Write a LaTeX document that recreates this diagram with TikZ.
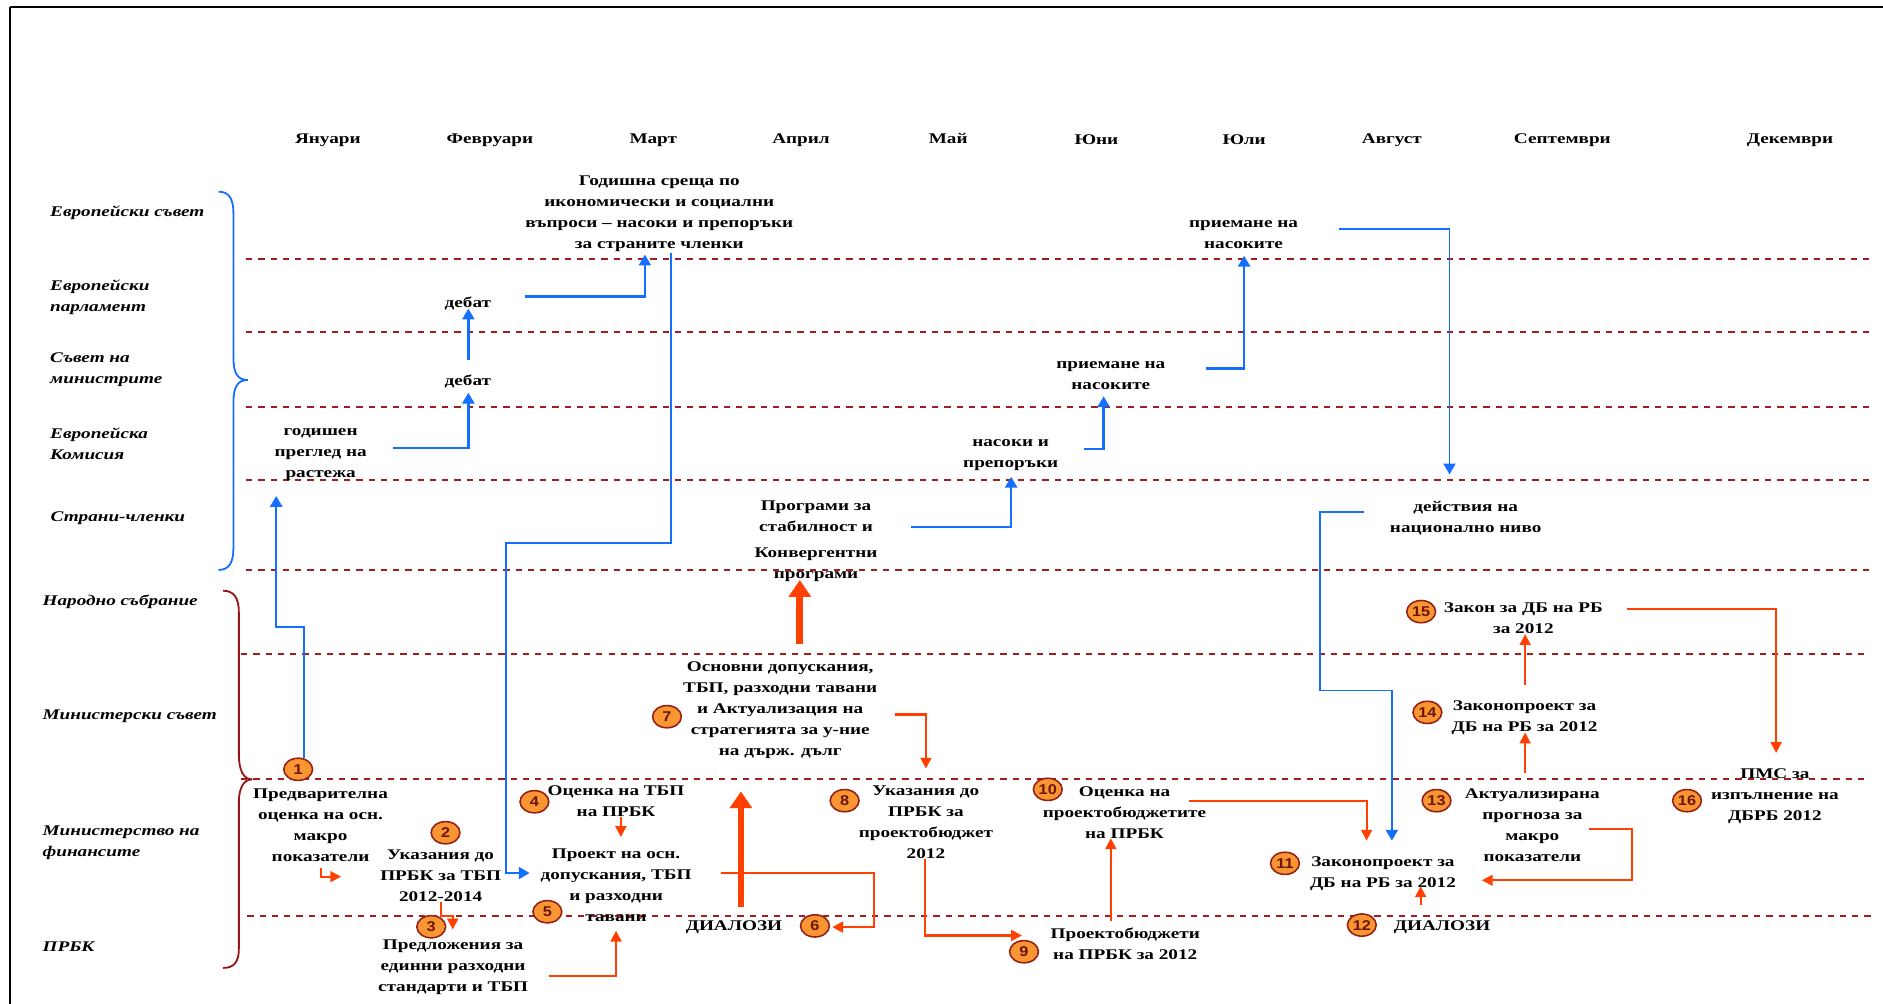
\documentclass[tikz,border=0pt]{standalone}
\usepackage{fontspec}
\setmainfont{Liberation Serif}[FakeStretch=1.3]
\newfontfamily\numfont{Liberation Sans}[FakeStretch=1.15]
\usetikzlibrary{arrows.meta,shapes.geometric}
\definecolor{eublue}{RGB}{20,110,255}
\definecolor{bgred}{RGB}{255,64,0}
\definecolor{laneline}{RGB}{160,30,30}
\definecolor{bracered}{RGB}{150,20,20}
\definecolor{numfill}{RGB}{247,150,50}
\definecolor{numdraw}{RGB}{150,30,20}
\definecolor{numtext}{RGB}{110,20,10}
\tikzset{
  txt/.style={font=\bfseries\fontsize{12.3}{17.5}\selectfont, align=center, inner sep=0pt, text=black, yshift=-1.5pt},
  lane/.style={font=\bfseries\itshape\fontsize{12.3}{17.5}\selectfont, align=left, anchor=west, inner sep=0pt, yshift=-1pt},
  num/.style={ellipse, draw=numdraw, line width=1.3pt, fill=numfill, minimum width=24pt, minimum height=18.5pt, inner sep=0pt, font=\numfont\bfseries\fontsize{11.8}{12}\selectfont, text=numtext},
  lanesep/.style={draw=laneline, line width=1.5pt, dash pattern=on 5.2pt off 5pt},
  bluearr/.style={draw=eublue, line width=2pt, -{Triangle[length=9pt,width=10pt]}},
  bluethin/.style={draw=eublue, line width=1.6pt, -{Triangle[length=9pt,width=10pt]}},
  redarr/.style={draw=bgred, line width=1.8pt, -{Triangle[length=9pt,width=9pt]}},
  bigarr/.style={draw=bgred, line width=5.6pt, -{Triangle[length=14pt,width=18pt]}},
  eubrace/.style={draw=eublue, line width=1.5pt},
  bgbrace/.style={draw=bracered, line width=1.5pt},
  frame/.style={draw=black, line width=1.8pt}
}
\begin{document}
\begin{tikzpicture}[x=1pt,y=-1pt]
\useasboundingbox (0,0) rectangle (1568,836);
% frame
\draw[frame] (8.3,5.6) -- (1568,5.6);
\draw[frame] (8.3,5.6) -- (8.3,836);

% lane separators
\foreach \yy in {215.4,276.7,338.6,399.7,474.6}{\draw[lanesep] (205,\yy) -- (1558,\yy);}
\draw[lanesep] (200.7,544.6) -- (1552,544.6);
\draw[lanesep] (200.7,649) -- (1554,649);
\draw[lanesep] (206,762.8) -- (1559,762.8);

% braces
\draw[eubrace] (182,159.6) .. controls (191,159.6) and (194.4,166) .. (194.4,178) -- (194.4,298)
  .. controls (194.4,311) and (198,316.4) .. (206.3,316.4)
  .. controls (198,316.4) and (194.4,322) .. (194.4,335) -- (194.4,456)
  .. controls (194.4,468) and (191,474.6) .. (182,474.6);
\draw[bgbrace] (185.7,491.9) .. controls (195,491.9) and (198.9,498) .. (198.9,510) -- (198.9,628)
  .. controls (198.9,642) and (203,649) .. (210,649);
\draw[bgbrace] (210,649) .. controls (203,649) and (198.9,656) .. (198.9,668) -- (198.9,790)
  .. controls (198.9,801) and (195,806) .. (185.7,806);

% months
\node[txt] (mJan) at (273,115.2) {Януари};
\node[txt] (mFeb) at (408,115.2) {Февруари};
\node[txt] (mMar) at (544,115.2) {Март};
\node[txt] (mApr) at (667,115.2) {Април};
\node[txt] (mMay) at (789.6,113.7) {Май};
\node[txt] (mJun) at (913,115.2) {Юни};
\node[txt] (mJul) at (1036,115.2) {Юли};
\node[txt] (mAug) at (1159,115.2) {Август};
\node[txt] (mSep) at (1301,115.2) {Септември};
\node[txt] (mDec) at (1490.6,115.2) {Декември};

% lane labels
\node[lane] (lEC) at (41.6,176.3) {Европейски съвет};
\node[lane] (lEP) at (41.6,246.6) {Европейски\\парламент};
\node[lane] (lCM) at (41.6,307.1) {Съвет на\\министрите};
\node[lane] (lCom) at (41.6,368.8) {Европейска\\Комисия};
\node[lane] (lMS) at (42,430.2) {Страни-членки};
\node[lane] (lNS) at (35.3,500.2) {Народно събрание};
\node[lane] (lMC) at (35.3,595.4) {Министерски съвет};
\node[lane] (lMF) at (35.3,700.9) {Министерство на\\финансите};
\node[lane] (lPR) at (35.3,787.7) {ПРБК};

% EU nodes
\node[txt] (ann) at (549,176.5) {Годишна среща по\\икономически и социални\\въпроси – насоки и препоръки\\за страните членки};
\node[txt] (deb1) at (389.6,251.2) {дебат};
\node[txt] (deb2) at (389.6,315.9) {дебат};
\node[txt] (agr) at (267,377.3) {годишен\\преглед на\\растежа};
\node[txt] (acc1) at (1035.5,194) {приемане на\\насоките};
\node[txt] (acc2) at (925,311.2) {приемане на\\насоките};
\node[txt] (gdl) at (841.6,377.1) {насоки и\\препоръки};
\node[txt] (scp) at (679.5,449.2) {Програми за\\стабилност и\\[3.4pt]Конвергентни\\програми};
\node[txt] (nat) at (1220.5,430) {действия на\\национално ниво};

% national nodes
\node[num] (c15) at (1183.4,509.3) {15};
\node[txt] (law) at (1268.5,513) {Закон за ДБ на РБ\\за 2012};
\node[txt] (bas) at (649.7,589.8) {Основни допускания,\\ТБП, разходни тавани\\и Актуализация на\\стратегията за у-ние\\на държ. дълг};
\node[num] (c7) at (555.4,596.8) {7};
\node[num] (c14) at (1188.6,593.2) {14};
\node[txt] (bill2) at (1269.5,596) {Законопроект за\\ДБ на РБ за 2012};

\node[num] (c1) at (248.3,640.6) {1};
\node[txt] (pre) at (266.9,686) {Предварителна\\оценка на осн.\\макро\\показатели};
\node[num] (c2) at (371,693.4) {2};
\node[txt] (ins) at (366.9,727.6) {Указания до\\ПРБК за ТБП\\2012-2014};
\node[num] (c4) at (445,667.6) {4};
\node[txt] (ev4) at (513,665.9) {Оценка на ТБП\\на ПРБК};
\node[txt] (prj) at (513,735.9) {Проект на осн.\\допускания, ТБП\\и разходни\\тавани};
\node[num] (c5) at (455.8,759.2) {5};
\node[num] (c3) at (359.1,771.7) {3};
\node[txt] (prop) at (377.3,804) {Предложения за\\единни разходни\\стандарти и ТБП};
\node[txt] (dia1) at (611.2,770.3) {ДИАЛОЗИ};
\node[num] (c6) at (678.6,771) {6};
\node[num] (c8) at (703.3,666.7) {8};
\node[txt] (ins8) at (771,683.5) {Указания до\\ПРБК за\\проектобюджет\\2012};
\node[num] (c10) at (872.5,657.3) {10};
\node[txt] (ev10) at (936.4,675) {Оценка на\\проектобюджетите\\на ПРБК};
\node[txt] (drafts) at (937,784) {Проектобюджети\\на ПРБК за 2012};
\node[num] (c9) at (852.7,792.5) {9};
\node[num] (c11) at (1070,718.9) {11};
\node[txt] (bill1) at (1151.6,726.1) {Законопроект за\\ДБ на РБ за 2012};
\node[num] (c12) at (1134,770.3) {12};
\node[txt] (dia2) at (1200.8,770.3) {ДИАЛОЗИ};
\node[num] (c13) at (1196.2,666.7) {13};
\node[txt] (upd) at (1276,686) {Актуализирана\\прогноза за\\макро\\показатели};
\node[num] (c16) at (1404.8,666.7) {16};
\node[txt] (pms) at (1478,661.8) {ПМС за\\изпълнение на\\ДБРБ 2012};

% connector end points
\coordinate (a1) at (253,631); \coordinate (a1e) at (230,413);
\coordinate (b1) at (327,373); \coordinate (b1e) at (390,327);
\coordinate (d1) at (390,300); \coordinate (d1e) at (390,257);
\coordinate (e1) at (437,247); \coordinate (e1e) at (537,212);
\coordinate (f1) at (559,211); \coordinate (f1e) at (441,727);
\coordinate (g1) at (759,439); \coordinate (g1e) at (842,397);
\coordinate (h1) at (903,374); \coordinate (h1e) at (919,330);
\coordinate (i1) at (1004,307); \coordinate (i1e) at (1036,213);
\coordinate (j1) at (1115,191); \coordinate (j1e) at (1207,395);
\coordinate (k1) at (1136,426); \coordinate (k1e) at (1159,700);

% blue connectors
\draw[bluearr] (a1) -- (253,522) -- (230,522) -- (a1e);
\draw[bluearr] (b1) -- (390,373) -- (b1e);
\draw[bluearr] (d1) -- (d1e);
\draw[bluearr] (e1) -- (537,247) -- (e1e);
\draw[bluethin] (f1) -- (559,452) -- (421,452) -- (421,727) -- (f1e);
\draw[bluearr] (g1) -- (842,439) -- (g1e);
\draw[bluearr] (h1) -- (919,374) -- (h1e);
\draw[bluearr] (i1) -- (1036,307) -- (i1e);
\draw[bluethin] (j1) -- (1207,191) -- (j1e);
\draw[bluethin] (k1) -- (1099,426) -- (1099,575) -- (1159,575) -- (k1e);

% red connectors
\coordinate (r1) at (267,723); \coordinate (r1e) at (284,730);
\coordinate (r2) at (367,751); \coordinate (r2e) at (377,774);
\coordinate (r3) at (517,680); \coordinate (r3e) at (517,697);
\coordinate (r4) at (457,813); \coordinate (r4e) at (513,775);
\coordinate (r5) at (666,536); \coordinate (r5e) at (666,483);
\coordinate (r6) at (617,755); \coordinate (r6e) at (617,659);
\coordinate (r7) at (600,727); \coordinate (r7e) at (693,772);
\coordinate (r8) at (745,595); \coordinate (r8e) at (771,640);
\coordinate (r9) at (770,715); \coordinate (r9e) at (851,779);
\coordinate (r10) at (925,767); \coordinate (r10e) at (925,698);
\coordinate (r11) at (990,667); \coordinate (r11e) at (1138,700);
\coordinate (r12) at (1183,754); \coordinate (r12e) at (1183,738);
\coordinate (r13) at (1323,690); \coordinate (r13e) at (1234,733);
\coordinate (r14) at (1270,644); \coordinate (r14e) at (1270,610);
\coordinate (r15) at (1270,570); \coordinate (r15e) at (1270,528);
\coordinate (r16) at (1355,507); \coordinate (r16e) at (1479,627);

\draw[redarr] (r1) -- (267,730) -- (r1e);
\draw[redarr] (r2) -- (367,763) -- (377,763) -- (r2e);
\draw[redarr] (r3) -- (r3e);
\draw[redarr] (r4) -- (513,813) -- (r4e);
\draw[bigarr] (r5) -- (r5e);
\draw[bigarr] (r6) -- (r6e);
\draw[redarr] (r7) -- (728,727) -- (728,772) -- (r7e);
\draw[redarr] (r8) -- (771,595) -- (r8e);
\draw[redarr] (r9) -- (770,779) -- (r9e);
\draw[redarr] (r10) -- (r10e);
\draw[redarr] (r11) -- (1138,667) -- (r11e);
\draw[redarr] (r12) -- (r12e);
\draw[redarr] (r13) -- (1359,690) -- (1359,733) -- (r13e);
\draw[redarr] (r14) -- (r14e);
\draw[redarr] (r15) -- (r15e);
\draw[redarr] (r16) -- (1479,507) -- (r16e);
\end{tikzpicture}
\end{document}
